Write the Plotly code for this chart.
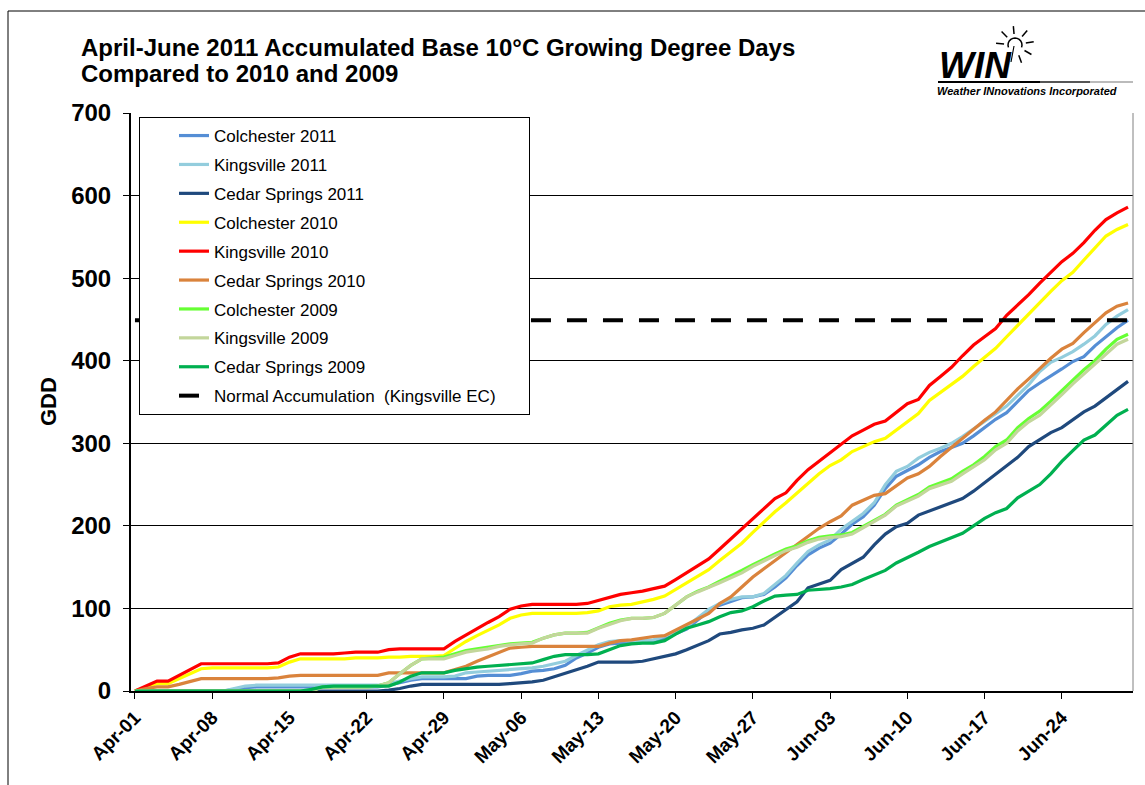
import math
import pandas as pd
import plotly.graph_objects as go

# ---------------- data ----------------
DATES = pd.date_range("2011-04-01", "2011-06-30", freq="D")
TICK_DATES = pd.date_range("2011-04-01", "2011-06-24", freq="7D")

colchester_2011 = [0, 0, 0, 0, 0, 0, 0, 0, 0, 2,
                   4, 5, 5, 5, 5, 5, 5, 5, 5, 5,
                   5, 5, 5, 7, 10, 13, 15, 15, 15, 15,
                   15, 18, 19, 19, 19, 21, 24, 25, 27, 31,
                   40, 46, 53, 57, 58, 58, 59, 60, 64, 69,
                   75, 86, 97, 104, 109, 113, 114, 117, 126, 137,
                   152, 165, 173, 179, 190, 202, 211, 225, 245, 260,
                   267, 274, 283, 290, 295, 300, 309, 319, 329, 337,
                   351, 364, 373, 381, 390, 399, 405, 418, 429, 440,
                   449]
kingsville_2011 = [0, 0, 0, 0, 0, 0, 0, 0, 0, 3,
                   6, 7, 7, 7, 7, 7, 7, 7, 7, 7,
                   7, 7, 7, 9, 12, 15, 17, 17, 17, 18,
                   22, 23, 24, 25, 26, 27, 28, 30, 33, 36,
                   43, 50, 56, 60, 61, 61, 61, 62, 66, 71,
                   78, 89, 99, 106, 111, 114, 114, 118, 129, 140,
                   155, 169, 177, 183, 196, 206, 215, 228, 250, 266,
                   272, 282, 289, 294, 300, 308, 317, 327, 336, 345,
                   358, 371, 387, 398, 404, 411, 420, 430, 444, 454,
                   462]
cedar_springs_2011 = [0, 0, 0, 0, 0, 0, 0, 0, 0, 0,
                      0, 0, 0, 0, 0, 0, 0, 0, 0, 0,
                      0, 0, 0, 1, 3, 6, 8, 8, 8, 8,
                      8, 8, 8, 8, 9, 10, 11, 13, 17, 21,
                      26, 30, 35, 35, 35, 35, 36, 39, 42, 45,
                      50, 56, 61, 69, 71, 74, 76, 80, 89, 98,
                      108, 125, 130, 134, 147, 154, 162, 177, 190, 199,
                      203, 213, 218, 222, 227, 233, 242, 252, 263, 272,
                      283, 296, 305, 313, 319, 329, 338, 345, 355, 365,
                      375]
colchester_2010 = [0, 5, 9, 9, 15, 21, 27, 28, 28, 28,
                   28, 28, 28, 29, 35, 39, 39, 39, 39, 39,
                   40, 40, 40, 41, 41, 42, 42, 42, 43, 52,
                   60, 67, 73, 80, 88, 92, 94, 94, 94, 94,
                   94, 95, 97, 102, 104, 105, 108, 111, 115, 123,
                   131, 139, 147, 158, 168, 179, 192, 205, 217, 228,
                   240, 251, 263, 273, 280, 290, 296, 302, 306, 316,
                   327, 336, 352, 362, 371, 381, 393, 404, 415, 429,
                   443, 457, 470, 484, 497, 507, 522, 537, 551, 559,
                   565]
kingsville_2010 = [0, 6, 12, 12, 19, 26, 33, 33, 33, 33,
                   33, 33, 33, 34, 41, 45, 45, 45, 45, 46,
                   47, 47, 47, 50, 51, 51, 51, 51, 51, 60,
                   68, 75, 83, 90, 99, 103, 105, 105, 105, 105,
                   105, 106, 110, 114, 117, 119, 121, 124, 127, 135,
                   143, 152, 160, 172, 184, 197, 209, 221, 233, 240,
                   255, 268, 278, 289, 299, 309, 316, 323, 327, 338,
                   348, 353, 370, 381, 392, 406, 419, 429, 439, 455,
                   467, 480, 494, 507, 520, 530, 543, 558, 571, 579,
                   586]
cedar_springs_2010 = [0, 3, 5, 5, 8, 12, 15, 15, 15, 15,
                      15, 15, 15, 16, 18, 19, 19, 19, 19, 19,
                      19, 19, 19, 22, 22, 22, 22, 22, 22, 26,
                      30, 36, 41, 47, 52, 53, 54, 54, 54, 54,
                      54, 54, 54, 58, 61, 62, 64, 66, 67, 74,
                      81, 88, 94, 106, 114, 126, 138, 148, 158, 167,
                      178, 188, 197, 205, 212, 225, 231, 237, 239, 248,
                      258, 263, 272, 284, 295, 306, 318, 328, 338, 352,
                      366, 378, 391, 403, 414, 421, 434, 446, 458, 466,
                      470]
colchester_2009 = [0, 0, 0, 0, 0, 0, 0, 0, 0, 0,
                   0, 0, 0, 0, 0, 0, 0, 5, 5, 5,
                   5, 5, 6, 10, 21, 31, 39, 40, 41, 45,
                   49, 51, 53, 55, 57, 58, 59, 64, 68, 70,
                   70, 71, 77, 82, 86, 88, 88, 89, 94, 104,
                   114, 121, 126, 133, 139, 146, 153, 160, 166, 172,
                   176, 182, 186, 188, 189, 192, 199, 207, 214, 225,
                   232, 238, 247, 252, 257, 266, 274, 284, 296, 304,
                   319, 330, 339, 351, 364, 377, 389, 400, 414, 426,
                   432]
kingsville_2009 = [0, 0, 0, 0, 0, 0, 0, 0, 0, 0,
                   0, 0, 0, 0, 0, 0, 0, 5, 5, 5,
                   5, 5, 6, 10, 21, 31, 39, 39, 39, 43,
                   47, 49, 51, 54, 56, 57, 58, 64, 68, 70,
                   70, 70, 76, 81, 85, 88, 88, 89, 94, 104,
                   114, 120, 125, 131, 137, 143, 151, 158, 164, 170,
                   174, 180, 184, 186, 187, 190, 198, 206, 213, 224,
                   230, 236, 245, 250, 254, 263, 271, 280, 292, 300,
                   315, 326, 334, 346, 359, 372, 384, 395, 408, 420,
                   426]
cedar_springs_2009 = [0, 0, 0, 0, 0, 0, 0, 0, 0, 0,
                      0, 0, 0, 0, 0, 0, 2, 5, 6, 6,
                      6, 6, 6, 6, 11, 18, 22, 22, 22, 25,
                      27, 29, 30, 31, 32, 33, 34, 38, 42, 44,
                      44, 44, 45, 50, 55, 57, 58, 58, 61, 69,
                      76, 80, 84, 90, 95, 97, 102, 109, 115, 116,
                      117, 122, 123, 124, 126, 129, 135, 141, 146, 155,
                      161, 168, 175, 180, 186, 191, 200, 209, 216, 221,
                      234, 242, 250, 263, 278, 291, 304, 310, 322, 334,
                      341]
NORMAL_GDD = 449

SERIES_NAMES = ["Colchester 2011", "Kingsville 2011", "Cedar Springs 2011",
                "Colchester 2010", "Kingsville 2010", "Cedar Springs 2010",
                "Colchester 2009", "Kingsville 2009", "Cedar Springs 2009"]
SERIES_VALUES = [colchester_2011, kingsville_2011, cedar_springs_2011,
                 colchester_2010, kingsville_2010, cedar_springs_2010,
                 colchester_2009, kingsville_2009, cedar_springs_2009]
SERIES_COLORS = ["#558ED5", "#93CDDD", "#1F497D",
                 "#FFFF00", "#FF0000", "#DA833C",
                 "#66FF33", "#C3D69B", "#00B050"]
NORMAL_NAME = "Normal Accumulation\u00a0 (Kingsville EC)" + "\u00a0" * 6

TITLE_1 = "April-June 2011 Accumulated Base 10\u00b0C Growing Degree Days"
TITLE_2 = "Compared to 2010 and 2009"

# ---------------- layout helpers ----------------
W, H = 1145, 785
L, R, T, B = 131, 1133, 113, 691


def px(x):
    return (x - L) / (R - L)


def py(y):
    return (B - y) / (B - T)


FONT = "Liberation Sans, Arial, sans-serif"

fig = go.Figure()
for i, (name, vals, col) in enumerate(zip(SERIES_NAMES, SERIES_VALUES, SERIES_COLORS)):
    fig.add_trace(go.Scatter(x=DATES, y=vals, name=name, mode="lines",
                             line=dict(color=col, width=3.2),
                             legendgroup=f"g{i}"))
fig.add_trace(go.Scatter(x=DATES, y=[NORMAL_GDD] * len(DATES), name=NORMAL_NAME,
                         mode="lines", line=dict(color="black", width=4, dash="20px,16px"),
                         legendgroup="gn"))

shapes = []
# outer chart border
shapes.append(dict(type="line", xref="paper", yref="paper", x0=px(8), x1=px(1150), y0=py(11), y1=py(11),
                   line=dict(color="black", width=1)))
shapes.append(dict(type="line", xref="paper", yref="paper", x0=px(8), x1=px(8), y0=py(11), y1=py(790),
                   line=dict(color="black", width=1)))
# plot area right border
shapes.append(dict(type="line", xref="paper", yref="paper", x0=px(1133), x1=px(1133), y0=py(113), y1=py(691),
                   line=dict(color="#808080", width=1)))
# logo underline
for xa, xb, c in [(938, 1040, "#000000"), (1040, 1090, "#555555"), (1090, 1133, "#BBBBBB")]:
    shapes.append(dict(type="line", xref="paper", yref="paper", x0=px(xa), x1=px(xb), y0=py(82), y1=py(82),
                       line=dict(color=c, width=2)))
# logo sun (bulb arc + rays)
cx, cy, rr = 1015, 45, 7
pts = []
for k in range(0, 13):
    a = math.radians(200 - k * 220 / 12)
    pts.append((cx + rr * math.cos(a), cy - rr * math.sin(a)))
path = "M" + " L".join(f"{px(x):.5f},{py(y):.5f}" for x, y in pts)
shapes.append(dict(type="path", xref="paper", yref="paper", path=path, line=dict(color="black", width=1.5)))
for ang in [95, 135, 175, 50, 10, -30, -70]:
    a = math.radians(ang)
    x0, y0 = cx + 11 * math.cos(a), cy - 11 * math.sin(a)
    x1, y1 = cx + 19 * math.cos(a), cy - 19 * math.sin(a)
    shapes.append(dict(type="line", xref="paper", yref="paper", x0=px(x0), y0=py(y0), x1=px(x1), y1=py(y1),
                       line=dict(color="black", width=1.5)))
shapes.append(dict(type="line", xref="paper", yref="paper", x0=px(1014), y0=py(46), x1=px(1011), y1=py(62),
                   line=dict(color="black", width=1.2)))

annotations = [
    dict(text=TITLE_1, x=px(79), y=py(47), xref="paper", yref="paper", xanchor="left", yanchor="middle",
         showarrow=False, font=dict(family=FONT, size=24, color="black", weight="bold")),
    dict(text=TITLE_2, x=px(79), y=py(74), xref="paper", yref="paper", xanchor="left", yanchor="middle",
         showarrow=False, font=dict(family=FONT, size=24, color="black", weight="bold")),
    dict(text="GDD", x=px(48), y=py(402), xref="paper", yref="paper", xanchor="center", yanchor="middle",
         textangle=-90, showarrow=False, font=dict(family=FONT, size=22, color="black", weight="bold")),
    dict(text="<b><i>WIN</i></b>", x=px(937), y=py(65), xref="paper", yref="paper", xanchor="left",
         yanchor="middle", showarrow=False, font=dict(family=FONT, size=37, color="black")),
    dict(text="<b><i>Weather INnovations Incorporated</i></b>", x=px(935), y=py(91), xref="paper", yref="paper",
         xanchor="left", yanchor="middle", showarrow=False, font=dict(family=FONT, size=11, color="black")),
]

fig.update_layout(
    width=W, height=H,
    margin=dict(l=L, r=W - R, t=T, b=H - B, pad=0),
    paper_bgcolor="white", plot_bgcolor="white",
    showlegend=True,
    legend=dict(x=px(139), y=py(117), xanchor="left", yanchor="top",
                bgcolor="white", bordercolor="black", borderwidth=1,
                font=dict(family=FONT, size=17, color="black"),
                tracegroupgap=3.8, traceorder="grouped", indentation=34),
    shapes=shapes,
    annotations=annotations,
)
fig.update_xaxes(
    type="date",
    range=["2011-03-31 15:22", "2011-06-30 10:48"],
    tickvals=TICK_DATES, tickformat="%b-%d", tickangle=-45,
    tickfont=dict(family=FONT, size=19, color="black", weight="bold"),
    ticks="outside", ticklen=6, tickcolor="black", tickwidth=1,
    showline=True, linecolor="black", linewidth=2,
    showgrid=False, zeroline=False,
)
fig.update_yaxes(
    range=[0, 700], dtick=100, tick0=0,
    tickfont=dict(family=FONT, size=24, color="black", weight="bold"),
    ticks="outside", ticklen=6, tickcolor="black", tickwidth=1,
    ticklabelstandoff=7,
    showline=True, linecolor="black", linewidth=2,
    showgrid=True, gridcolor="black", gridwidth=1,
    zeroline=False,
)

fig.write_html("out.html", config={"displayModeBar": False},
               post_script="document.body.style.margin='0';document.body.style.overflow='hidden';")
